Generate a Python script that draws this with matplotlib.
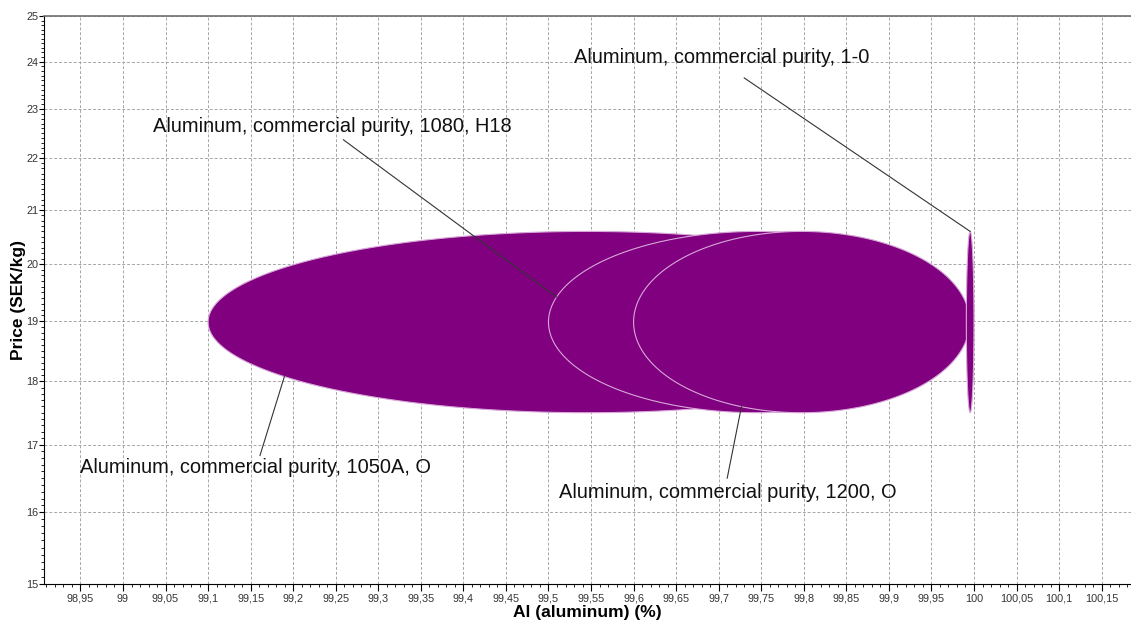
import numpy as np
import matplotlib
matplotlib.use('Agg')
import matplotlib.pyplot as plt
from matplotlib import ticker

plt.rcParams['font.family'] = ['Liberation Sans', 'DejaVu Sans']

# Material bubbles: Al content range (%) and price range (SEK/kg)
names = [
    'Aluminum, commercial purity, 1050A, O',
    'Aluminum, commercial purity, 1080, H18',
    'Aluminum, commercial purity, 1200, O',
    'Aluminum, commercial purity, 1-0',
]
al_min = [99.10, 99.50, 99.60, 99.991]
al_max = [99.99, 99.99, 99.995, 100.0]
price_min = [17.5, 17.5, 17.5, 17.5]
price_max = [20.6, 20.6, 20.6, 20.6]

# Label placement (text centre, leader start) and angle on bubble edge
label_xy = [(99.156, 16.66), (99.246, 22.63), (99.711, 16.29), (99.704, 24.08)]
leader_start = [(99.161, 16.84), (99.259, 22.37), (99.710, 16.50), (99.730, 23.65)]
leader_angle = [217, 164, 249, 90]

x_ticks = np.round(np.arange(98.95, 100.16, 0.05), 2)
y_ticks = np.arange(15, 26, 1)

PURPLE = '#800080'


def bubble(i, t):
    """Point(s) on the bubble edge; ellipse is drawn in log-price space."""
    cx = (al_min[i] + al_max[i]) / 2
    rx = (al_max[i] - al_min[i]) / 2
    ly0, ly1 = np.log(price_min[i]), np.log(price_max[i])
    cy = (ly0 + ly1) / 2
    ry = (ly1 - ly0) / 2
    return cx + rx * np.cos(t), np.exp(cy + ry * np.sin(t))


fig = plt.figure(figsize=(11.31, 6.24), dpi=100)
ax = fig.add_axes([0.039, 0.064, 0.961, 0.910])
ax.set_yscale('log')

t = np.linspace(0, 2 * np.pi, 400)
for i in range(len(names)):
    bx, by = bubble(i, t)
    ax.fill(bx, by, facecolor=PURPLE, edgecolor='#d8a8d8', linewidth=0.8, zorder=3)

for i, name in enumerate(names):
    ex, ey = bubble(i, np.deg2rad(leader_angle[i]))
    sx, sy = leader_start[i]
    ax.plot([sx, ex], [sy, ey], color='#333333', linewidth=0.8, zorder=4)
    ax.text(label_xy[i][0], label_xy[i][1], name, fontsize=14.4,
            ha='center', va='center', color='#111111', zorder=5)

ax.set_xlim(98.9073, 100.1845)
ax.set_ylim(15, 25)

ax.xaxis.set_major_locator(ticker.FixedLocator(x_ticks))
ax.xaxis.set_minor_locator(ticker.MultipleLocator(0.01))
ax.xaxis.set_major_formatter(ticker.FuncFormatter(
    lambda v, p: f'{v:.2f}'.rstrip('0').rstrip('.').replace('.', ',')))
ax.yaxis.set_major_locator(ticker.FixedLocator(y_ticks))
ax.yaxis.set_minor_locator(ticker.MultipleLocator(0.1))
ax.yaxis.set_major_formatter(ticker.FuncFormatter(lambda v, p: f'{v:.0f}'))
ax.yaxis.set_minor_formatter(ticker.NullFormatter())

ax.tick_params(which='major', width=0.8, labelsize=7.8, labelcolor='#333333')
ax.tick_params(axis='x', which='major', length=5, pad=2)
ax.tick_params(axis='y', which='major', length=3.5, pad=0.5)
ax.tick_params(which='minor', length=2.5, width=0.6)

ax.grid(True, which='major', color='#a6a6a6', linestyle=(0, (3, 2)),
        linewidth=0.7, zorder=0)
ax.set_axisbelow(True)

ax.spines['right'].set_visible(False)
ax.spines['top'].set_color('#707070')
ax.spines['top'].set_linewidth(1.2)

ax.set_xlabel('Al (aluminum) (%)', fontsize=12.5, fontweight='bold', labelpad=1)
ax.set_ylabel('Price (SEK/kg)', fontsize=12.5, fontweight='bold', labelpad=0)

fig.savefig('out.png', dpi=100)
plt.close(fig)
